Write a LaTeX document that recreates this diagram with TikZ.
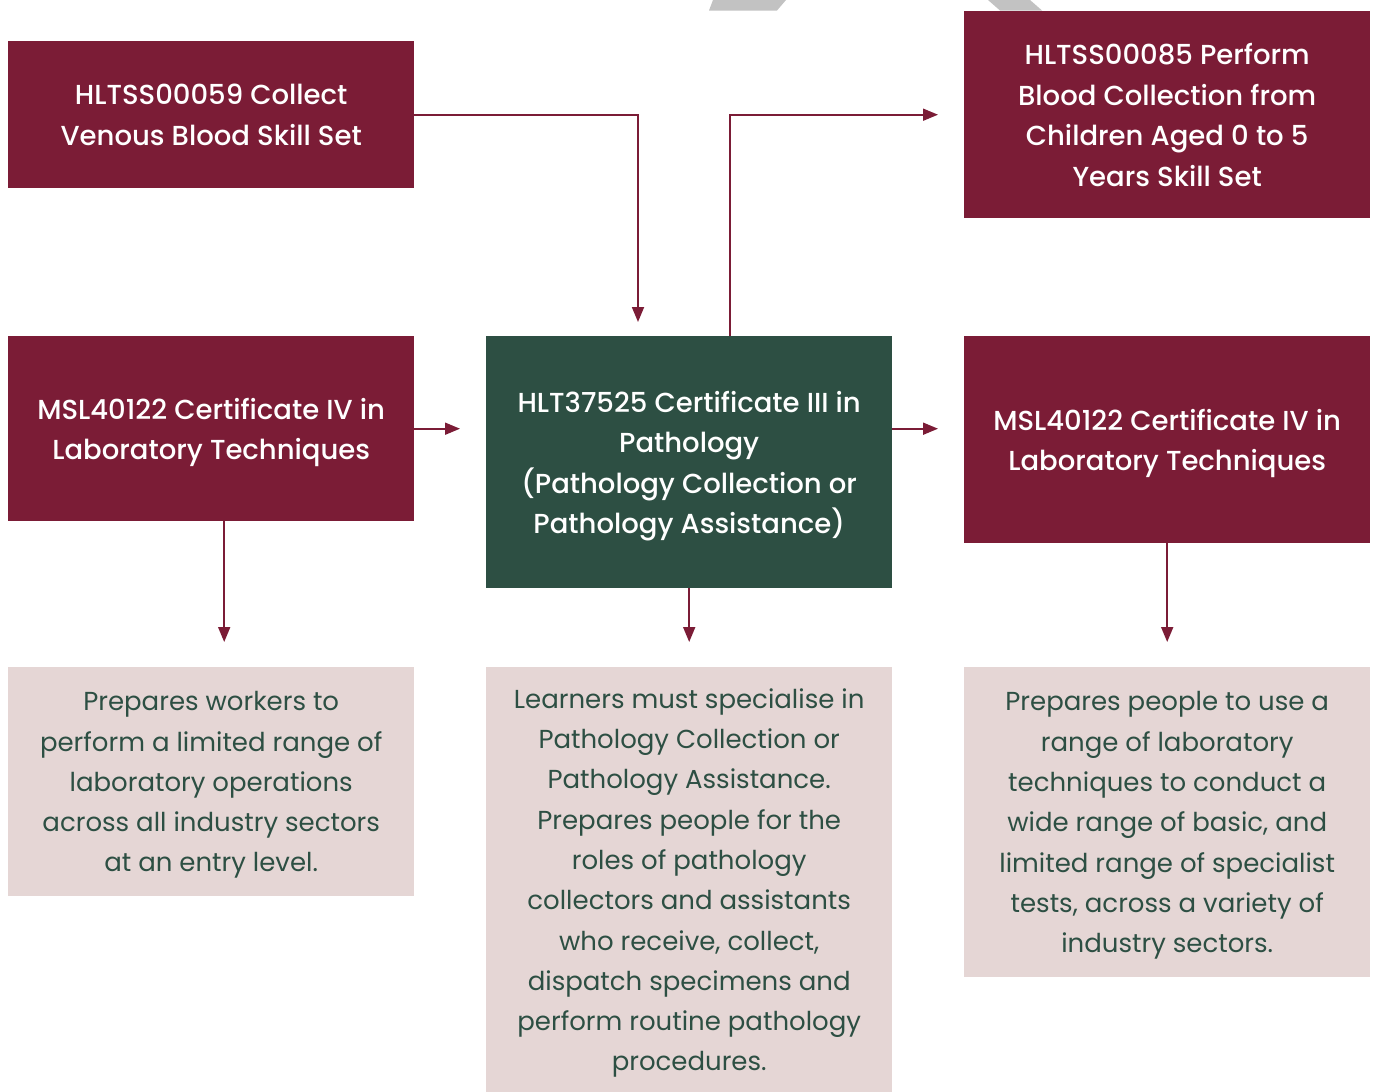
\documentclass[tikz,border=0pt]{standalone}
\usepackage{fontspec}
\setmainfont{Poppins}
\newfontfamily\titlefont{Poppins Medium}
\usetikzlibrary{arrows.meta,calc}
\definecolor{wine}{HTML}{7B1C36}
\definecolor{pine}{HTML}{2D4F43}
\definecolor{blush}{HTML}{E5D6D5}
\definecolor{ash}{HTML}{C2C2C2}
\begin{document}
\begin{tikzpicture}[x=1pt,y=-1pt,
		box/.style={rectangle, anchor=north west, inner sep=0pt, minimum width=406pt, align=center, text=white, fill=wine, font=\titlefont\fontsize{27.5}{40.5}\selectfont, text depth=-3pt},
		info/.style={box, fill=blush, text=pine, font=\fontsize{26}{40.3}\selectfont, text depth=-18pt},
		link/.style={wine, line width=1.8pt, -{Triangle[length=15pt,width=12pt]}}]
			\useasboundingbox[fill=white] (0,0) rectangle (1374,1092);
			\fill[ash](713,0)--(786,0)--(777,10.5)--(709,10.5)--cycle;
			\fill[ash](988,0)--(1030,0)--(1042,10.5)--(1000,10.5)--cycle;
			
			\node[box, minimum height=147pt](skill59) at (8,41) {HLTSS00059 Collect\\Venous Blood Skill Set};
			\node[box, minimum height=207pt](skill85) at (964,11) {HLTSS00085 Perform\\Blood Collection from\\Children Aged 0 to 5\\Years Skill Set};
			\node[box, minimum height=185pt](certL) at (8,336) {MSL40122 Certificate IV in\\Laboratory Techniques};
			\node[box, fill=pine, minimum height=252pt](cert3) at (486,336) {HLT37525 Certificate III in\\Pathology\\(Pathology Collection or\\Pathology Assistance)};
			\node[box, minimum height=207pt](certR) at (964,336) {MSL40122 Certificate IV in\\Laboratory Techniques};
			
			\node[info, minimum height=229pt](descL) at (8,667) {Prepares workers to\\perform a limited range of\\laboratory operations\\across all industry sectors\\at an entry level.};
			\node[info, minimum height=425pt](descC) at (486,667) {Learners must specialise in\\Pathology Collection or\\Pathology Assistance.\\Prepares people for the\\roles of pathology\\collectors and assistants\\who receive, collect,\\dispatch specimens and\\perform routine pathology\\procedures.};
			\node[info, minimum height=310pt](descR) at (964,667) {Prepares people to use a\\range of laboratory\\techniques to conduct a\\wide range of basic, and\\limited range of specialist\\tests, across a variety of\\industry sectors.};
			
			\draw[link](skill59.east)-|($(cert3.north west)+(152,-14)$);
			\draw[link]($(cert3.north west)+(244,0)$)|-($(skill85.west)+(-26,0)$);
			\draw[link](certL.east)--($(certL.east -| cert3.west)+(-26,0)$);
			\draw[link](cert3.east |- certL.east)--($(certR.west |- certL.east)+(-26,0)$);
			
			\draw[link]($(certL.south)+(13,0)$)--($(descL.north)+(13,-25)$);
			\draw[link](cert3.south)--($(descC.north)+(0,-25)$);
			\draw[link](certR.south)--($(descR.north)+(0,-25)$);
\end{tikzpicture}
\end{document}
